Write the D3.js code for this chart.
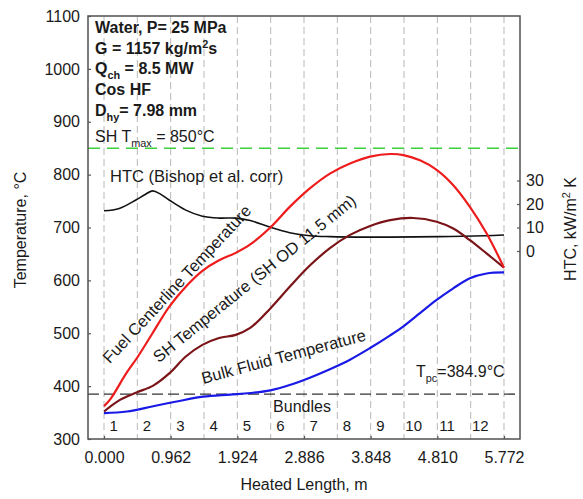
<!DOCTYPE html>
<html>
<head>
<meta charset="utf-8">
<script src="https://cdn.jsdelivr.net/npm/d3@7"></script>
<style>
  body { margin: 0; background: #fff; }
  svg { display: block; }
  text { font-family: "Liberation Sans", Arial, Helvetica, sans-serif; white-space: pre; }
</style>
</head>
<body>
<svg id="chart" width="583" height="499"></svg>
<script>
// Bundle boundaries along the heated length, m
const bundleEdges = [0, 0.481, 0.962, 1.443, 1.924, 2.405, 2.886, 3.367, 3.848, 4.329, 4.810, 5.291, 5.772];
const bundleLabels = ["1", "2", "3", "4", "5", "6", "7", "8", "9", "10", "11", "12"];

// Axis ticks
const lengthTicks = [0, 0.962, 1.924, 2.886, 3.848, 4.810, 5.772];
const tempTicks = [300, 400, 500, 600, 700, 800, 900, 1000, 1100];
const htcTicks = [0, 10, 20, 30];

// Fuel centerline temperature, °C
const fuelLength = [0, 0.10, 0.32, 0.49, 0.70, 0.94, 1.18, 1.42, 1.66, 1.90, 2.11, 2.40, 2.68, 2.97, 3.26, 3.55, 3.84, 4.13, 4.32, 4.56, 4.80, 5.04, 5.28, 5.52, 5.772];
const fuelTemp   = [362, 377, 424, 456, 500, 550, 588, 618, 638, 652, 668, 700, 739, 774, 802, 821, 834, 839, 837, 827, 809, 780, 739, 689, 624];

// Sheath temperature, °C
const shLength = [0, 0.23, 0.47, 0.71, 0.95, 1.18, 1.42, 1.66, 1.90, 2.11, 2.40, 2.68, 2.97, 3.26, 3.55, 3.84, 4.13, 4.46, 4.80, 5.04, 5.28, 5.52, 5.772];
const shTemp   = [352, 374, 388, 401, 425, 456, 478, 491, 497, 510, 547, 588, 628, 661, 686, 703, 714, 718, 711, 698, 676, 651, 624];

// Bulk fluid temperature, °C
const bulkLength = [0, 0.33, 0.71, 1.05, 1.43, 1.82, 2.11, 2.40, 2.68, 2.97, 3.26, 3.55, 3.84, 4.13, 4.32, 4.56, 4.80, 5.04, 5.28, 5.52, 5.772];
const bulkTemp   = [349, 352, 362, 371, 380, 384, 387, 392, 402, 416, 432, 450, 472, 496, 513, 538, 563, 585, 604, 613, 615];

// Heat transfer coefficient (Bishop et al. correlation), kW/m2K
const htcLength = [0, 0.22, 0.46, 0.58, 0.70, 0.82, 0.94, 1.18, 1.42, 1.66, 1.90, 2.11, 2.40, 2.68, 2.97, 3.26, 3.84, 4.50, 5.00, 5.50, 5.772];
const htcValue  = [17.1, 18.1, 21.7, 23.8, 25.6, 24.1, 21.7, 17.4, 14.8, 14.0, 14.0, 13.0, 10.1, 7.8, 6.5, 6.1, 5.9, 6.0, 6.2, 6.5, 6.8];

const tpc = 384.9;
const shTmax = 850;

const W = 583, H = 499;
const plot = { left: 88, right: 520, top: 16, bottom: 439 };
const font = '"Liberation Sans", Arial, Helvetica, sans-serif';
const ink = "#1a1a1a";

const svg = d3.select("#chart");
svg.append("rect").attr("width", W).attr("height", H).attr("fill", "#fff");

const x = d3.scaleLinear().domain([-0.231, 6.003]).range([plot.left, plot.right]);
const y = d3.scaleLinear().domain([300, 1100]).range([plot.bottom, plot.top]);
const yHtc = d3.scaleLinear().domain([-80, 100]).range([plot.bottom, plot.top]);

// Bundle separators
svg.append("g").selectAll("line").data(bundleEdges).join("line")
  .attr("x1", d => x(d)).attr("x2", d => x(d))
  .attr("y1", plot.top).attr("y2", plot.bottom)
  .attr("stroke", "#b8b8b8").attr("stroke-width", 1).attr("stroke-dasharray", "7,4");

// Maximum sheath temperature limit
svg.append("line")
  .attr("x1", plot.left).attr("x2", plot.right)
  .attr("y1", y(shTmax)).attr("y2", y(shTmax))
  .attr("stroke", "#3dcf3d").attr("stroke-width", 1.4).attr("stroke-dasharray", "12,7");

// Pseudocritical temperature
svg.append("line")
  .attr("x1", plot.left).attr("x2", plot.right)
  .attr("y1", y(tpc)).attr("y2", y(tpc))
  .attr("stroke", "#333").attr("stroke-width", 1.4).attr("stroke-dasharray", "11,5");

// Curves
const tempLine = d3.line().x(d => x(d[0])).y(d => y(d[1])).curve(d3.curveCatmullRom.alpha(0.5));
const htcLine = d3.line().x(d => x(d[0])).y(d => yHtc(d[1])).curve(d3.curveCatmullRom.alpha(0.5));

svg.append("path").datum(d3.zip(htcLength, htcValue)).attr("d", htcLine)
  .attr("fill", "none").attr("stroke", "#111").attr("stroke-width", 1.6);
svg.append("path").datum(d3.zip(bulkLength, bulkTemp)).attr("d", tempLine)
  .attr("fill", "none").attr("stroke", "#1a1ae6").attr("stroke-width", 2.2);
svg.append("path").datum(d3.zip(shLength, shTemp)).attr("d", tempLine)
  .attr("fill", "none").attr("stroke", "#7a1418").attr("stroke-width", 2.2);
svg.append("path").datum(d3.zip(fuelLength, fuelTemp)).attr("d", tempLine)
  .attr("fill", "none").attr("stroke", "#ee1c1c").attr("stroke-width", 2.2);

// Frame
svg.append("rect")
  .attr("x", plot.left).attr("y", plot.top)
  .attr("width", plot.right - plot.left).attr("height", plot.bottom - plot.top)
  .attr("fill", "none").attr("stroke", "#505050").attr("stroke-width", 1.5);

function styleAxis(g) {
  g.select(".domain").remove();
  g.attr("font-family", font).attr("font-size", 16);
  g.selectAll(".tick line").attr("stroke", "#555").attr("stroke-width", 1.2);
  g.selectAll(".tick text").attr("fill", ink);
}

svg.append("g").attr("transform", `translate(${plot.left},0)`)
  .call(d3.axisLeft(y).tickValues(tempTicks).tickFormat(d3.format("d")).tickSize(-3).tickPadding(8))
  .call(styleAxis);

svg.append("g").attr("transform", `translate(0,${plot.bottom})`)
  .call(d3.axisBottom(x).tickValues(lengthTicks).tickFormat(d3.format(".3f")).tickSize(-3).tickPadding(13))
  .call(styleAxis);

svg.append("g").attr("transform", `translate(${plot.right},0)`)
  .call(d3.axisRight(yHtc).tickValues(htcTicks).tickFormat(d3.format("d")).tickSize(-3).tickPadding(6))
  .call(styleAxis);

// Text with sub/superscripts
function rich(parent, px, py, parts, attrs) {
  const t = parent.append("text").attr("x", px).attr("y", py)
    .attr("font-size", 16).attr("fill", ink);
  Object.entries(attrs || {}).forEach(([k, v]) => t.attr(k, v));
  let shift = 0;
  parts.forEach(p => {
    const target = p.sub ? 5 : p.sup ? -6 : 0;
    const s = t.append("tspan").attr("dy", target - shift).text(p.t);
    if (p.sub || p.sup) s.attr("font-size", "0.68em");
    shift = target;
  });
  return t;
}

const notes = svg.append("g");
rich(notes, 95, 33, [{ t: "Water, P= 25 MPa" }], { "font-weight": "bold" });
rich(notes, 95, 54, [{ t: "G = 1157 kg/m" }, { t: "2", sup: true }, { t: "s" }], { "font-weight": "bold" });
rich(notes, 95, 74, [{ t: "Q" }, { t: "ch", sub: true }, { t: " = 8.5 MW" }], { "font-weight": "bold" });
rich(notes, 95, 95, [{ t: "Cos HF" }], { "font-weight": "bold" });
rich(notes, 95, 116, [{ t: "D" }, { t: "hy", sub: true }, { t: "= 7.98 mm" }], { "font-weight": "bold" });
rich(notes, 95, 142, [{ t: "SH T" }, { t: "max", sub: true }, { t: " = 850°C" }]);

rich(notes, 110, 182, [{ t: "HTC (Bishop et al. corr)" }], { "font-size": 16.5 });
rich(notes, 416, 377, [{ t: "T" }, { t: "pc", sub: true }, { t: "=384.9°C" }]);

// Curve labels
function rotated(label, cx, cy, angle) {
  svg.append("text")
    .attr("transform", `translate(${cx},${cy}) rotate(${angle})`)
    .attr("text-anchor", "middle").attr("font-size", 16.5).attr("fill", ink)
    .text(label);
}
rotated("Fuel Centerline Temperature", 181, 288, -47);
rotated("SH Temperature (SH OD 11.5 mm)", 258, 283, -39);
rotated("Bulk Fluid Temperature", 285, 362, -15);

// Bundles
svg.append("text").attr("x", 302).attr("y", 412).attr("text-anchor", "middle")
  .attr("font-size", 16).attr("fill", ink).text("Bundles");
svg.append("g").selectAll("text").data(bundleLabels).join("text")
  .attr("x", (d, i) => x(bundleEdges[i] + 0.14))
  .attr("y", 431).attr("text-anchor", "middle")
  .attr("font-size", 15).attr("fill", ink).text(d => d);

// Axis titles
svg.append("text").attr("transform", "translate(26,230) rotate(-90)")
  .attr("text-anchor", "middle").attr("font-size", 16).attr("fill", ink)
  .text("Temperature, °C");
svg.append("text").attr("x", 304).attr("y", 490).attr("text-anchor", "middle")
  .attr("font-size", 16).attr("fill", ink).text("Heated Length, m");
rich(svg, 0, 0, [{ t: "HTC, kW/m" }, { t: "2", sup: true }, { t: " K" }],
  { "transform": "translate(576,229) rotate(-90)", "text-anchor": "middle" });
</script>
</body>
</html>
